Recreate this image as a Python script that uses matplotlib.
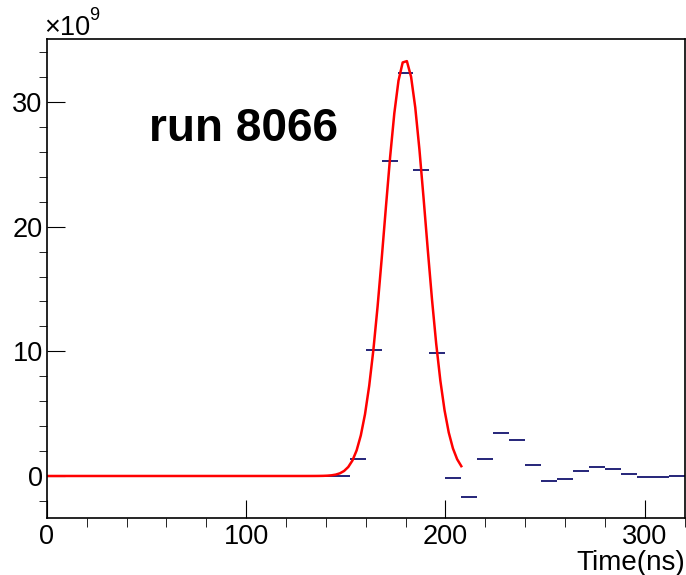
import numpy as np
import matplotlib.pyplot as plt

plt.rcParams['font.family'] = ['Liberation Sans', 'DejaVu Sans']

# histogram: 40 bins of 8 ns from 0 to 320, contents in units of 1e9
bin_edges = np.arange(0, 321, 8)
counts = [0, 0, 0, 0, 0, 0, 0, 0, 0, 0,
          0, 0, 0, 0, 0, 0, 0, 0, 0, 1.34,
          10.1, 25.3, 32.3, 24.55, 9.9, -0.19, -1.71, 1.34, 3.44, 2.85,
          0.85, -0.40, -0.24, 0.40, 0.69, 0.53, 0.13, -0.10, -0.10, -0.03]

# gaussian fit parameters, fit range 0-208 ns
fit_amp = 33.4
fit_mean = 179.8
fit_sigma = 10.3
fit_range = (0, 208)

fig = plt.figure(figsize=(6.86, 5.75), dpi=100)
ax = fig.add_axes([46.8/686, 1-518/575, (684.5-46.8)/686, (518-39)/575])

ax.hlines(counts, bin_edges[:-1], bin_edges[1:], color='#14146e', lw=1.3)

xf = np.linspace(fit_range[0], fit_range[1], 100)
ax.plot(xf, fit_amp*np.exp(-0.5*((xf-fit_mean)/fit_sigma)**2), color='#ff0000', lw=1.8)

ax.set_xlim(0, 320)
ax.set_ylim(-3.37, 35.05)
ax.set_xticks([0, 100, 200, 300])
ax.set_xticks(np.arange(0, 321, 20), minor=True)
ax.set_yticks([0, 10, 20, 30])
ax.set_yticks(np.arange(-2, 35, 2), minor=True)
ax.tick_params(direction='in', top=False, right=False, labelsize=19.5, width=0.8)
ax.tick_params(axis='x', which='major', length=13, pad=4)
ax.tick_params(axis='x', which='minor', length=6.5)
ax.tick_params(axis='y', which='major', length=12.7, pad=3)
ax.tick_params(axis='y', which='minor', length=5.5)
for s in ax.spines.values():
    s.set_linewidth(1.2)

ax.text(51.3, 26.9, 'run 8066', fontsize=33, fontweight='bold', va='baseline')
fig.text(44/686, 1-35/575, '×10', fontsize=19.5, va='baseline')
fig.text(89/686, 1-20/575, '9', fontsize=13, va='baseline')
fig.text(685/686, 1-570/575, 'Time(ns)', fontsize=20, ha='right', va='baseline')

fig.savefig('out.png', dpi=100)
